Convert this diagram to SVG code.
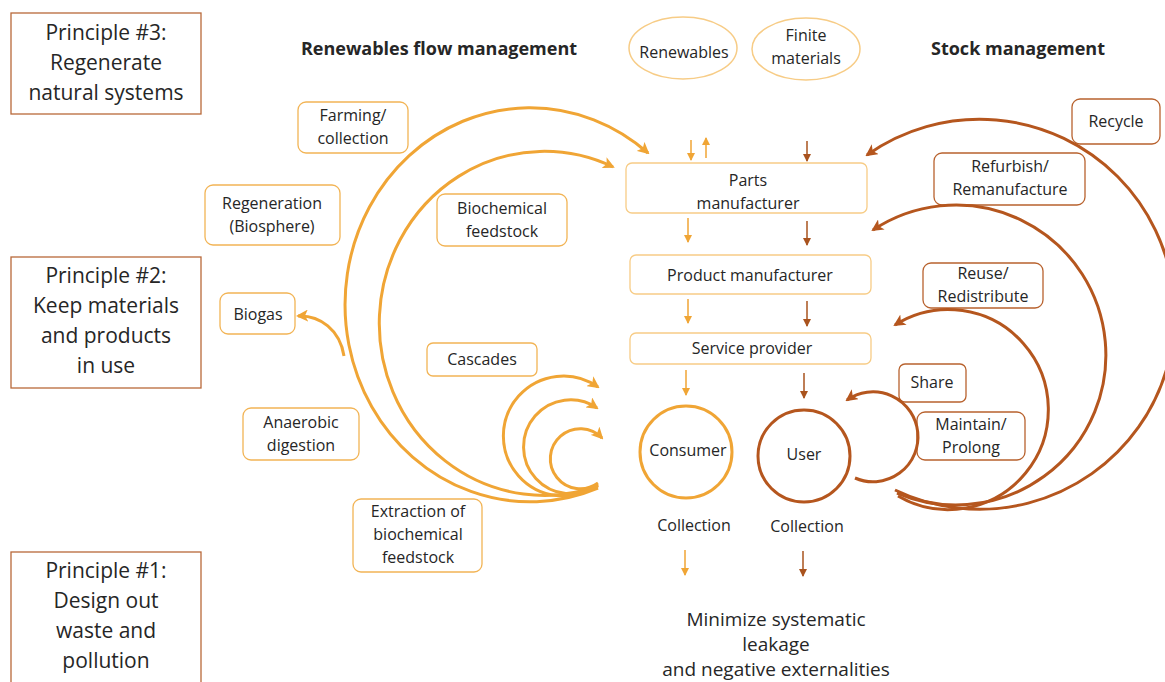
<svg xmlns="http://www.w3.org/2000/svg" width="1165" height="682" viewBox="0 0 1165 682">
<style>
text{font-family:"Open Sans","Noto Sans","Liberation Sans",sans-serif;fill:#262626;text-anchor:middle}
.lbl{font-size:16px}
.pr{font-size:21px}
.hd{font-size:18px;font-weight:bold}
.mn{font-size:19px}
.pbox{fill:#fff;stroke:#B8693A;stroke-width:1.3}
.obox{fill:#fff;stroke:#F2B455;stroke-width:1.3}
.bbox{fill:#fff;stroke:#B8622E;stroke-width:1.3}
.cbox{fill:#fff;stroke:#F7CC86;stroke-width:1.3}
.oarc{fill:none;stroke:#F0A535;stroke-width:3}
.barc{fill:none;stroke:#B5561E;stroke-width:3}
.osm{fill:none;stroke:#F0A535;stroke-width:1.5}
.bsm{fill:none;stroke:#A9531E;stroke-width:1.5}
</style>
<defs>
<marker id="ao" markerWidth="12" markerHeight="12" refX="10" refY="6" orient="auto" markerUnits="userSpaceOnUse"><path d="M0,0 L12,6 L0,12 L3,6 z" fill="#F0A535"/></marker>
<marker id="ab" markerWidth="12" markerHeight="12" refX="10" refY="6" orient="auto" markerUnits="userSpaceOnUse"><path d="M0,0 L12,6 L0,12 L3,6 z" fill="#B5561E"/></marker>
<marker id="so" markerWidth="8" markerHeight="8" refX="7" refY="4" orient="auto" markerUnits="userSpaceOnUse"><path d="M0,0 L8,4 L0,8 z" fill="#F0A535"/></marker>
<marker id="sb" markerWidth="8" markerHeight="8" refX="7" refY="4" orient="auto" markerUnits="userSpaceOnUse"><path d="M0,0 L8,4 L0,8 z" fill="#A9531E"/></marker>
</defs>

<g id="principle3"><rect class="pbox" x="11" y="13" width="190" height="101"/>
<text class="pr" x="106" y="40">Principle #3:</text><text class="pr" x="106" y="70">Regenerate</text><text class="pr" x="106" y="100">natural systems</text></g>
<g id="principle2"><rect class="pbox" x="11" y="257" width="190" height="131"/>
<text class="pr" x="106" y="283">Principle #2:</text><text class="pr" x="106" y="313">Keep materials</text><text class="pr" x="106" y="343">and products</text><text class="pr" x="106" y="373">in use</text></g>
<g id="principle1"><rect class="pbox" x="11" y="552" width="190" height="135"/>
<text class="pr" x="106" y="578">Principle #1:</text><text class="pr" x="106" y="608">Design out</text><text class="pr" x="106" y="638">waste and</text><text class="pr" x="106" y="668">pollution</text></g>

<g id="headers"><text class="hd" x="439" y="55">Renewables flow management</text><text class="hd" x="1018" y="55">Stock management</text></g>

<g id="renewables"><ellipse cx="683" cy="48" rx="54" ry="31" fill="#fff" stroke="#F7CC86" stroke-width="1.5"/><text class="lbl" x="684" y="58">Renewables</text></g>
<g id="finite"><ellipse cx="806" cy="49" rx="54" ry="31" fill="#fff" stroke="#F7CC86" stroke-width="1.5"/><text class="lbl" x="806" y="41">Finite</text><text class="lbl" x="806" y="64">materials</text></g>

<g id="parts"><rect class="cbox" x="626" y="163" width="241" height="50" rx="6"/><text class="lbl" x="748" y="186">Parts</text><text class="lbl" x="748" y="209">manufacturer</text></g>
<g id="product"><rect class="cbox" x="630" y="255" width="241" height="39" rx="6"/><text class="lbl" x="750" y="281">Product manufacturer</text></g>
<g id="service"><rect class="cbox" x="630" y="333" width="241" height="31" rx="6"/><text class="lbl" x="752" y="354">Service provider</text></g>
<g id="consumer"><circle cx="686" cy="452" r="46" fill="none" stroke="#F0A535" stroke-width="3"/><text class="lbl" x="688" y="456">Consumer</text></g>
<g id="user"><circle cx="804" cy="456" r="46" fill="none" stroke="#B5561E" stroke-width="3"/><text class="lbl" x="804" y="460">User</text></g>
<g id="collection1"><text class="lbl" x="694" y="531">Collection</text></g>
<g id="collection2"><text class="lbl" x="807" y="532">Collection</text></g>
<g id="leakage"><text class="mn" x="776" y="626">Minimize systematic</text><text class="mn" x="776" y="651">leakage</text><text class="mn" x="776" y="676">and negative externalities</text></g>

<g id="farming"><rect class="obox" x="298" y="102" width="110" height="51" rx="8"/><text class="lbl" x="353" y="121">Farming/</text><text class="lbl" x="353" y="144">collection</text></g>
<g id="regeneration"><rect class="obox" x="205" y="185" width="135" height="60" rx="8"/><text class="lbl" x="272" y="209">Regeneration</text><text class="lbl" x="272" y="232">(Biosphere)</text></g>
<g id="biochemical"><rect class="obox" x="437" y="194" width="130" height="52" rx="8"/><text class="lbl" x="502" y="214">Biochemical</text><text class="lbl" x="502" y="237">feedstock</text></g>
<g id="biogas"><rect class="obox" x="220" y="293" width="75" height="41" rx="8"/><text class="lbl" x="258" y="320">Biogas</text></g>
<g id="cascades"><rect class="obox" x="427" y="343" width="110" height="33" rx="6"/><text class="lbl" x="482" y="365">Cascades</text></g>
<g id="anaerobic"><rect class="obox" x="243" y="408" width="116" height="52" rx="8"/><text class="lbl" x="301" y="428">Anaerobic</text><text class="lbl" x="301" y="451">digestion</text></g>
<g id="extraction"><rect class="obox" x="353" y="499" width="129" height="73" rx="8"/><text class="lbl" x="418" y="517">Extraction of</text><text class="lbl" x="418" y="540">biochemical</text><text class="lbl" x="418" y="563">feedstock</text></g>

<g id="recycle"><rect class="bbox" x="1072" y="99" width="88" height="45" rx="8"/><text class="lbl" x="1116" y="127">Recycle</text></g>
<g id="refurbish"><rect class="bbox" x="934" y="153" width="151" height="52" rx="8"/><text class="lbl" x="1010" y="172">Refurbish/</text><text class="lbl" x="1010" y="195">Remanufacture</text></g>
<g id="reuse"><rect class="bbox" x="923" y="263" width="120" height="45" rx="8"/><text class="lbl" x="983" y="279">Reuse/</text><text class="lbl" x="983" y="302">Redistribute</text></g>
<g id="share"><rect class="bbox" x="899" y="364" width="67" height="38" rx="6"/><text class="lbl" x="932" y="388">Share</text></g>
<g id="maintain"><rect class="bbox" x="917" y="412" width="108" height="48" rx="8"/><text class="lbl" x="971" y="430">Maintain/</text><text class="lbl" x="971" y="453">Prolong</text></g>

<g id="connectors">
<path class="oarc" d="M598,488 A185,197 0 1 1 648,153" marker-end="url(#ao)"/>
<path class="oarc" d="M598,486 A165,172 0 1 1 613,167" marker-end="url(#ao)"/>
<path class="oarc" d="M344,356 C340,330 320,315 298,316" marker-end="url(#ao)"/>
<path class="oarc" d="M598,485 A60,60 0 1 1 598,387" marker-end="url(#ao)"/>
<path class="oarc" d="M598,485 A47,47 0 1 1 597,408" marker-end="url(#ao)"/>
<path class="oarc" d="M598,483 A30,30 0 1 1 602,438" marker-end="url(#ao)"/>
<path class="barc" d="M895,490 A195,195 0 1 0 867,155" marker-end="url(#ab)"/>
<path class="barc" d="M897,493 A150,150 0 1 0 873,230" marker-end="url(#ab)"/>
<path class="barc" d="M898,496 A100,100 0 1 0 895,325" marker-end="url(#ab)"/>
<path class="barc" d="M855,478 A45,45 0 1 0 847,400" marker-end="url(#ab)"/>
<path class="osm" d="M691,140 L691,160" marker-end="url(#so)"/>
<path class="osm" d="M706,158 L706,138" marker-end="url(#so)"/>
<path class="bsm" d="M807,141 L807,161" marker-end="url(#sb)"/>
<path class="osm" d="M688,218 L688,242" marker-end="url(#so)"/>
<path class="bsm" d="M807,221 L807,245" marker-end="url(#sb)"/>
<path class="osm" d="M688,299 L688,323" marker-end="url(#so)"/>
<path class="bsm" d="M807,301 L807,326" marker-end="url(#sb)"/>
<path class="osm" d="M686,370 L686,395" marker-end="url(#so)"/>
<path class="bsm" d="M804,373 L804,398" marker-end="url(#sb)"/>
<path class="osm" d="M685,550 L685,575" marker-end="url(#so)"/>
<path class="bsm" d="M803,551 L803,576" marker-end="url(#sb)"/>
</g>
</svg>
